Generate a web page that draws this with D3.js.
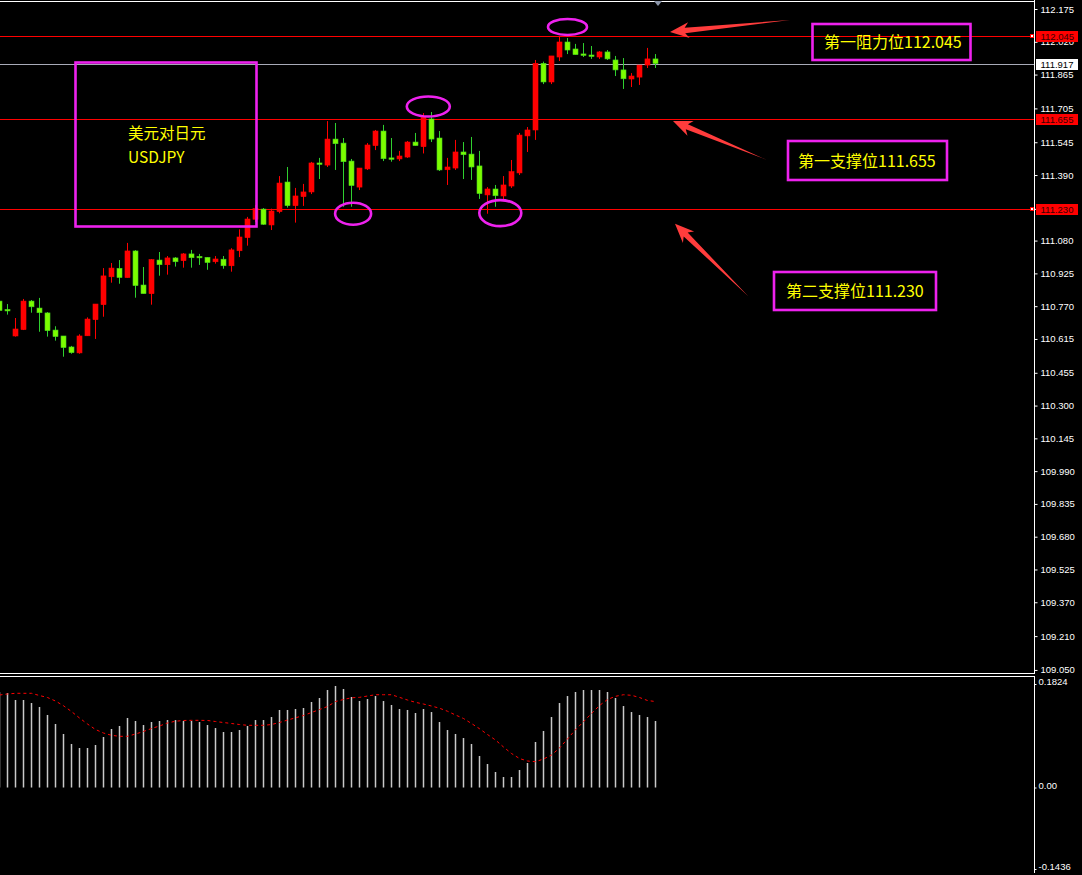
<!DOCTYPE html>
<html><head><meta charset="utf-8">
<script src="https://cdn.jsdelivr.net/npm/d3@7"></script>
<style>
html,body{margin:0;padding:0;background:#000;}
svg{display:block}
</style></head><body>
<svg id="c" width="1082" height="875"></svg>
<script>
// ---------- DATA ----------
const candleOpen = [
110.794,110.752,110.629,110.659,110.794,110.761,110.738,110.657,110.629,110.577,
110.549,110.630,110.706,110.777,110.909,110.949,110.905,111.031,110.870,110.829,
110.988,110.966,110.998,110.985,111.017,111.003,111.001,110.980,110.992,110.961,
111.032,111.094,111.181,111.229,111.154,111.217,111.357,111.245,111.288,111.310,
111.445,111.437,111.560,111.541,111.456,111.333,111.419,111.529,111.598,111.469,
111.466,111.475,111.546,111.524,111.655,111.565,111.415,111.423,111.499,111.489,
111.433,111.296,111.324,111.291,111.338,111.400,111.575,111.603,111.918,111.830,
111.948,112.019,111.986,111.960,111.955,111.948,111.972,111.934,111.887,111.844,
111.853,111.910,111.939];
const candleHigh = [
110.799,110.780,110.714,110.804,110.799,110.809,110.742,110.675,110.629,110.582,
110.637,110.717,110.780,110.950,110.974,110.988,111.069,111.035,110.955,110.993,
111.026,111.007,111.002,111.021,111.036,111.017,111.002,111.007,111.007,111.044,
111.133,111.192,111.248,111.234,111.231,111.385,111.428,111.329,111.348,111.452,
111.471,111.645,111.636,111.565,111.466,111.423,111.541,111.603,111.627,111.565,
111.504,111.551,111.589,111.683,111.688,111.598,111.471,111.556,111.546,111.570,
111.504,111.333,111.343,111.385,111.461,111.589,111.617,111.934,111.926,111.953,
112.047,112.038,112.010,112.014,112.000,111.976,111.981,111.953,111.943,111.872,
111.910,111.991,111.962];
const candleLow = [
110.747,110.730,110.626,110.657,110.739,110.649,110.626,110.607,110.531,110.545,
110.545,110.630,110.615,110.720,110.881,110.876,110.905,110.810,110.829,110.777,
110.914,110.919,110.957,110.952,110.952,110.965,110.942,110.971,110.947,110.933,
111.002,111.056,111.168,111.154,111.130,111.209,111.236,111.165,111.244,111.300,
111.371,111.428,111.414,111.240,111.240,111.319,111.414,111.508,111.456,111.453,
111.456,111.471,111.529,111.492,111.546,111.409,111.343,111.414,111.371,111.367,
111.277,111.207,111.240,111.272,111.329,111.390,111.499,111.556,111.820,111.820,
111.929,111.962,111.959,111.948,111.939,111.939,111.934,111.858,111.797,111.806,
111.816,111.896,111.896];
const candleClose = [
110.749,110.750,110.662,110.794,110.767,110.739,110.654,110.626,110.574,110.550,
110.629,110.709,110.780,110.913,110.950,110.905,111.031,110.867,110.829,110.990,
110.966,110.998,110.980,111.017,110.999,111.001,110.976,110.993,110.961,111.036,
111.097,111.182,111.231,111.157,111.220,111.352,111.245,111.291,111.310,111.447,
111.442,111.560,111.538,111.453,111.340,111.423,111.532,111.598,111.467,111.466,
111.480,111.546,111.529,111.664,111.560,111.414,111.428,111.499,111.486,111.428,
111.302,111.324,111.292,111.343,111.406,111.579,111.603,111.918,111.830,111.953,
112.019,111.981,111.959,111.958,111.953,111.972,111.939,111.887,111.845,111.858,
111.910,111.939,111.917];
const macdHist = [
0.1680,0.1665,0.1542,0.1542,0.1489,0.1419,0.1278,0.1119,0.0943,0.0767,
0.0696,0.0696,0.0749,0.0890,0.1031,0.1084,0.1225,0.1172,0.1101,0.1154,
0.1172,0.1189,0.1189,0.1172,0.1172,0.1154,0.1101,0.1048,0.0978,0.0978,
0.1013,0.1084,0.1189,0.1189,0.1242,0.1366,0.1366,0.1383,0.1401,0.1507,
0.1577,0.1718,0.1789,0.1736,0.1595,0.1524,0.1559,0.1612,0.1524,0.1454,
0.1383,0.1366,0.1313,0.1383,0.1330,0.1154,0.1013,0.0943,0.0872,0.0767,
0.0555,0.0414,0.0273,0.0185,0.0185,0.0308,0.0432,0.0802,0.0996,0.1242,
0.1489,0.1612,0.1683,0.1718,0.1718,0.1718,0.1683,0.1577,0.1436,0.1330,
0.1278,0.1242,0.1172];
const macdSignal = [
0.1630,0.1648,0.1660,0.1660,0.1660,0.1621,0.1586,0.1524,0.1441,0.1339,
0.1225,0.1119,0.1022,0.0960,0.0920,0.0902,0.0902,0.0943,0.0987,0.1040,
0.1084,0.1137,0.1168,0.1181,0.1184,0.1184,0.1181,0.1163,0.1145,0.1128,
0.1110,0.1096,0.1096,0.1096,0.1110,0.1145,0.1189,0.1228,0.1269,0.1322,
0.1374,0.1427,0.1515,0.1551,0.1581,0.1589,0.1612,0.1635,0.1635,0.1635,
0.1589,0.1542,0.1501,0.1471,0.1436,0.1397,0.1344,0.1278,0.1216,0.1128,
0.1036,0.0934,0.0837,0.0714,0.0599,0.0511,0.0467,0.0455,0.0502,0.0573,
0.0696,0.0855,0.1019,0.1159,0.1304,0.1445,0.1551,0.1607,0.1635,0.1625,
0.1586,0.1533,0.1515];
const priceTicks = [112.175,112.020,111.865,111.705,111.545,111.390,111.230,111.080,110.925,110.770,
  110.615,110.455,110.300,110.145,109.990,109.835,109.680,109.525,109.370,109.210,109.050];
const macdTicks = [0.1824, 0, -0.1436];
const macdTickLabels = ["0.1824", "0.00", "-0.1436"];
const levels = [112.045, 111.655, 111.230];
const levelNames = ["第一阻力位", "第一支撑位", "第二支撑位"];
const bidPrice = 111.917;
const pairTitle = ["美元对日元", "USDJPY"];
// circled turning points: candle index + price
const circleIdx = [71, 53.6, 44.2, 62.6];
const circlePrice = [112.090, 111.714, 111.207, 111.210];

// ---------- LAYOUT ----------
const W = 1082, H = 875, axisX = 1034;
const mainTop = 9, mainBot = 669.94, macdTop = 684, macdBot = 869;
const svg = d3.select("#c");
svg.append("rect").attr("width", W).attr("height", H).attr("fill", "#000");

const N = candleOpen.length;
const x = d3.scaleLinear().domain([0, N - 1]).range([-0.5, 655.5]);
const y = d3.scaleLinear().domain([109.050, 112.175]).range([mainBot, mainTop]);
const ym = d3.scaleLinear().domain([-0.1436, 0.1824]).range([macdBot, macdTop]);

const idx = d3.range(N);
const plot = svg.append("g").attr("clip-path", "url(#clipMain)");
svg.append("clipPath").attr("id", "clipMain").append("rect").attr("x", 0).attr("y", 2).attr("width", axisX).attr("height", 671);

// frame lines
const frame = svg.append("g").attr("stroke", "#fff").attr("stroke-width", 1).attr("shape-rendering", "crispEdges");
frame.append("line").attr("x1", 0).attr("x2", axisX).attr("y1", 1.5).attr("y2", 1.5);
frame.append("line").attr("x1", 0).attr("x2", axisX).attr("y1", 673.5).attr("y2", 673.5);
frame.append("line").attr("x1", 0).attr("x2", axisX).attr("y1", 676.5).attr("y2", 676.5);
frame.append("line").attr("x1", axisX + 0.5).attr("x2", axisX + 0.5).attr("y1", 0).attr("y2", 674);
frame.append("line").attr("x1", axisX + 0.5).attr("x2", axisX + 0.5).attr("y1", 676).attr("y2", 873);

// level lines
plot.selectAll("line.level").data(levels).join("line")
  .attr("x1", 0).attr("x2", axisX).attr("y1", d => Math.round(y(d)) + 0.5).attr("y2", d => Math.round(y(d)) + 0.5)
  .attr("stroke", "#ff0000").attr("stroke-width", 1).attr("shape-rendering", "crispEdges");
plot.append("line").attr("x1", 0).attr("x2", axisX)
  .attr("y1", Math.round(y(bidPrice)) + 0.5).attr("y2", Math.round(y(bidPrice)) + 0.5)
  .attr("stroke", "#a8aab8").attr("stroke-width", 1).attr("shape-rendering", "crispEdges");

// candles
const up = i => candleClose[i] >= candleOpen[i];
const cg = plot.append("g");
cg.selectAll("line.wick").data(idx).join("line")
  .attr("x1", i => x(i)).attr("x2", i => x(i))
  .attr("y1", i => y(candleHigh[i])).attr("y2", i => y(candleLow[i]))
  .attr("stroke", i => up(i) ? "#ff0000" : "#2fd02f").attr("stroke-width", 1);
cg.selectAll("rect.body").data(idx).join("rect")
  .attr("x", i => x(i) - 2.5)
  .attr("width", 5)
  .attr("y", i => { const t = y(Math.max(candleOpen[i], candleClose[i])); const b = y(Math.min(candleOpen[i], candleClose[i])); return b - t < 1.5 ? (t + b) / 2 - 0.75 : t; })
  .attr("height", i => Math.max(1.5, y(Math.min(candleOpen[i], candleClose[i])) - y(Math.max(candleOpen[i], candleClose[i]))))
  .attr("fill", i => up(i) ? "#ff0000" : "#7cfc00")
  .attr("stroke", i => up(i) ? "#ff0000" : "#44d41c").attr("stroke-width", 0.6);

// pair title box
const magenta = "#ee22ee";
svg.append("rect").attr("x", 75.5).attr("y", 62.5).attr("width", 181).attr("height", 164)
  .attr("fill", "none").attr("stroke", magenta).attr("stroke-width", 2.6);
svg.append("text").attr("x", 128).attr("y", 139).attr("fill", "#ffff00")
  .attr("font-family", "'Noto Sans CJK SC', sans-serif").attr("font-size", 15.5).text(pairTitle[0]);
svg.append("text").attr("x", 128).attr("y", 163).attr("fill", "#ffff00")
  .attr("font-family", "'Noto Sans CJK SC', sans-serif").attr("font-size", 15.5).text(pairTitle[1]);

// ellipses
const ellR = [[19.5, 8], [21.5, 10], [18, 11], [21, 13]];
svg.selectAll("ellipse.turn").data(circleIdx).join("ellipse")
  .attr("cx", (d) => x(d)).attr("cy", (d, k) => y(circlePrice[k]))
  .attr("rx", (d, k) => ellR[k][0]).attr("ry", (d, k) => ellR[k][1])
  .attr("fill", "none").attr("stroke", magenta).attr("stroke-width", 2.6);

// annotation boxes
const boxes = [
  {x: 812.5, y: 24, w: 158, h: 36, tx: 824},
  {x: 788, y: 141, w: 159, h: 39, tx: 798},
  {x: 774, y: 272, w: 162, h: 38, tx: 786}
];
boxes.forEach((b, k) => {
  svg.append("rect").attr("x", b.x).attr("y", b.y).attr("width", b.w).attr("height", b.h)
    .attr("fill", "none").attr("stroke", magenta).attr("stroke-width", 2.6);
  svg.append("text").attr("x", b.tx).attr("y", b.y + b.h / 2 + 6).attr("fill", "#ffff00")
    .attr("font-family", "'Noto Sans CJK SC', sans-serif").attr("font-size", 16)
    .text(levelNames[k] + levels[k].toFixed(3));
});

// arrows
function arrow(tail, tip) {
  const dx = tail[0] - tip[0], dy = tail[1] - tip[1], L = Math.hypot(dx, dy);
  const ux = dx / L, uy = dy / L, nx = -uy, ny = ux;
  const P = (s, t) => [tip[0] + ux * s + nx * t, tip[1] + uy * s + ny * t];
  const pts = [P(0, 0), P(19, 8), P(15, 2.8), P(L, 0), P(15, -2.8), P(19, -8)];
  svg.append("path").attr("d", "M" + pts.map(p => p.join(",")).join("L") + "Z").attr("fill", "#ff3c3c");
}
arrow([790, 20], [670, y(levels[0]) - 4.5]);
arrow([767, 160], [673, y(levels[1]) + 2]);
arrow([748, 296], [675, y(levels[2]) + 15]);

// shift marker
svg.append("path").attr("d", "M654,1L662,1L658,6Z").attr("fill", "#8a94a8");

// price axis
const fmt3 = d3.format(".3f");
const ax = svg.append("g").attr("transform", `translate(${axisX + 0.5},0)`)
  .call(d3.axisRight(y).tickValues(priceTicks).tickFormat(fmt3).tickSize(3).tickPadding(3));
ax.select(".domain").remove();
ax.selectAll("line").attr("stroke", "#fff");
ax.selectAll("text").attr("fill", "#fff").attr("font-family", "'Liberation Sans', Arial, sans-serif").attr("font-size", 9.5);

// level labels on axis
function axisLabel(v, bg, fg) {
  const yy = Math.round(y(v));
  svg.append("rect").attr("x", 1036).attr("y", yy - 5).attr("width", 42).attr("height", 11).attr("fill", bg);
  svg.append("text").attr("x", 1040.5).attr("y", yy + 4).attr("fill", fg)
    .attr("font-family", "'Liberation Sans', Arial, sans-serif").attr("font-size", 9.5).text(fmt3(v));
}
levels.forEach(v => axisLabel(v, "#ff0000", "#3a0000"));
axisLabel(bidPrice, "#ffffff", "#000000");
// alert markers
[levels[0], levels[2]].forEach(v => {
  svg.append("rect").attr("x", 1030.5).attr("y", Math.round(y(v)) - 1.5).attr("width", 3).attr("height", 3)
    .attr("fill", "#fff").attr("stroke", "#ff0000").attr("stroke-width", 1);
});

// MACD histogram
svg.append("g").selectAll("rect").data(idx).join("rect")
  .attr("x", i => x(i) - 0.75).attr("width", 1.5)
  .attr("y", i => Math.min(ym(macdHist[i]), ym(0)))
  .attr("height", i => Math.abs(ym(0) - ym(macdHist[i])))
  .attr("fill", "#c8c8c8");
// signal
svg.append("path").datum(idx)
  .attr("d", d3.line().x(i => x(i)).y(i => ym(macdSignal[i])))
  .attr("fill", "none").attr("stroke", "#ff0000").attr("stroke-width", 1).attr("stroke-dasharray", "3,3");

// MACD axis
const axm = svg.append("g").attr("transform", `translate(${axisX + 0.5},0)`)
  .call(d3.axisRight(ym).tickValues(macdTicks).tickFormat((d, k) => macdTickLabels[k]).tickSize(2).tickPadding(2));
axm.select(".domain").remove();
axm.selectAll("line").attr("stroke", "#fff");
axm.selectAll("text").attr("fill", "#fff").attr("dy", "0.1em").attr("font-family", "'Liberation Sans', Arial, sans-serif").attr("font-size", 9.5);
</script>
</body></html>
